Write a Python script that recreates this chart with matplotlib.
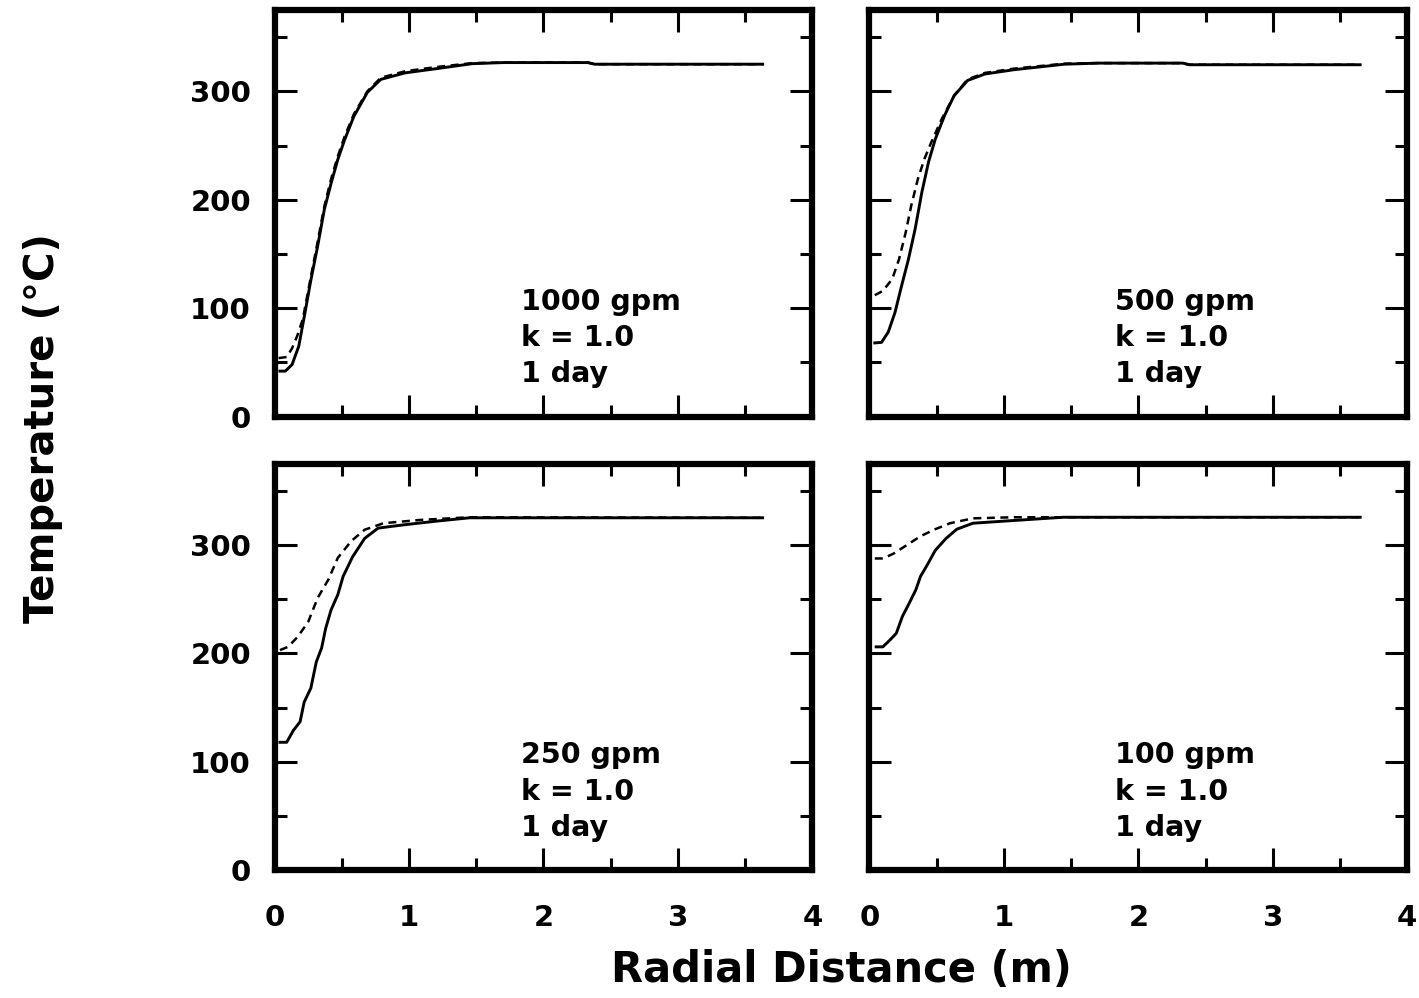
import matplotlib
matplotlib.use("Agg")
import matplotlib.pyplot as plt
from matplotlib.ticker import MultipleLocator

plt.rcParams['font.family'] = ['DejaVu Sans']
plt.rcParams['font.weight'] = 'bold'

# radial distance (m) / temperature (C) profiles after 1 day, k = 1.0
# solid and dashed curve for each pumping rate
r_1000_solid = [0.04, 0.08, 0.13, 0.18, 0.225, 0.27, 0.32, 0.37, 0.42, 0.47, 0.52,
                0.59, 0.69, 0.79, 0.97, 1.21, 1.47, 1.7, 2.33, 2.38, 3.63]
t_1000_solid = [42, 42, 48, 65, 95, 126, 157, 191, 215, 237, 255,
                277, 299, 311, 317, 321, 325.5, 326.5, 326.5, 325, 325]
r_1000_dash = [0.03, 0.09, 0.13, 0.17, 0.21, 0.27, 0.32, 0.37, 0.42, 0.47, 0.52,
               0.59, 0.69, 0.79, 0.97, 1.21, 1.47, 1.7, 2.33, 2.38, 3.63]
t_1000_dash = [54, 55, 63, 75, 90, 129, 161, 194, 219, 240, 258,
               279, 300, 312.5, 318.5, 322.5, 326, 326.5, 326.5, 325, 325]

r_500_solid = [0.04, 0.09, 0.14, 0.19, 0.24, 0.29, 0.34, 0.39, 0.44, 0.49, 0.56,
               0.63, 0.73, 0.86, 1.08, 1.45, 1.7, 2.33, 2.38, 3.65]
t_500_solid = [68, 68.5, 78, 96, 121, 145, 173, 207, 235, 256, 278,
               296, 310, 316, 320, 325, 326, 326, 324.5, 324.5]
r_500_dash = [0.04, 0.1, 0.17, 0.22, 0.27, 0.31, 0.36, 0.41, 0.46, 0.54,
              0.63, 0.73, 0.86, 1.08, 1.45, 1.7, 2.33, 2.38, 3.65]
t_500_dash = [112, 116, 127, 145, 170, 194, 219, 238, 253, 275,
              296, 311, 317, 321, 325.5, 326, 326, 324.5, 324.5]

r_250_solid = [0.04, 0.09, 0.14, 0.19, 0.22, 0.27, 0.31, 0.35, 0.38, 0.42, 0.47,
               0.51, 0.58, 0.67, 0.77, 0.96, 1.21, 1.45, 3.63]
t_250_solid = [118, 118, 129, 137, 155, 168, 192, 205, 223, 240, 254,
               271, 289, 306, 315.5, 318.5, 322, 325, 325]
r_250_dash = [0.04, 0.1, 0.17, 0.25, 0.32, 0.4, 0.47, 0.57, 0.67, 0.81, 1.08, 1.45, 3.63]
t_250_dash = [203, 206, 215, 229, 251, 268, 288, 303.5, 314, 320, 323, 325.5, 325]

r_100_solid = [0.05, 0.1, 0.15, 0.2, 0.245, 0.295, 0.345, 0.38, 0.43, 0.49, 0.57,
               0.65, 0.77, 0.95, 1.44, 3.65]
t_100_solid = [206, 206, 212, 218.5, 234, 246, 258.5, 271, 281.5, 295, 306,
               314.5, 320, 321.5, 325.5, 325.5]
r_100_dash = [0.04, 0.1, 0.18, 0.28, 0.38, 0.48, 0.6, 0.77, 1.07, 1.44, 3.65]
t_100_dash = [287.5, 287.5, 292, 300, 308, 314, 320, 324.5, 325.5, 325.5, 325.5]

rates = ["1000 gpm", "500 gpm", "250 gpm", "100 gpm"]
k_label = "k = 1.0"
time_label = "1 day"

panels = [
    (r_1000_solid, t_1000_solid, r_1000_dash, t_1000_dash),
    (r_500_solid, t_500_solid, r_500_dash, t_500_dash),
    (r_250_solid, t_250_solid, r_250_dash, t_250_dash),
    (r_100_solid, t_100_solid, r_100_dash, t_100_dash),
]

fig = plt.figure(figsize=(14.19, 9.98), dpi=100)

lefts = [0.1935, 0.6127]
bottoms = [0.5825, 0.128]
w, h = 0.379, 0.4075

for i, (rs, ts, rd, td) in enumerate(panels):
    row, col = divmod(i, 2)
    ax = fig.add_axes([lefts[col], bottoms[row], w, h])
    ax.plot(rs, ts, color="black", lw=2.1, solid_joinstyle="round")
    ax.plot(rd, td, color="black", lw=1.8, dashes=(3.2, 2.2))

    ax.set_xlim(0, 4)
    ax.set_ylim(0, 375)
    ax.xaxis.set_major_locator(MultipleLocator(1))
    ax.xaxis.set_minor_locator(MultipleLocator(0.5))
    ax.yaxis.set_major_locator(MultipleLocator(100))
    ax.yaxis.set_minor_locator(MultipleLocator(50))
    ax.tick_params(which="both", direction="in", top=True, right=True,
                   width=2.2, labelsize=21)
    ax.tick_params(which="major", length=16)
    ax.tick_params(which="minor", length=8.5)
    ax.tick_params(axis="x", pad=24)
    ax.tick_params(axis="y", pad=17)
    for sp in ax.spines.values():
        sp.set_linewidth(4.5)

    if col == 1:
        ax.tick_params(labelleft=False)
    if row == 0:
        ax.tick_params(labelbottom=False)

    ax.text(1.83, 119, f"{rates[i]}\n{k_label}\n{time_label}",
            fontsize=20.5, fontweight="bold", va="top", ha="left",
            linespacing=1.38)

fig.text(0.593, 0.028, "Radial Distance (m)", fontsize=30, fontweight="bold",
         ha="center", va="center")
fig.text(0.03, 0.571, "Temperature (°C)", fontsize=29, fontweight="bold",
         ha="center", va="center", rotation=90)

fig.savefig("out.png", dpi=100)
